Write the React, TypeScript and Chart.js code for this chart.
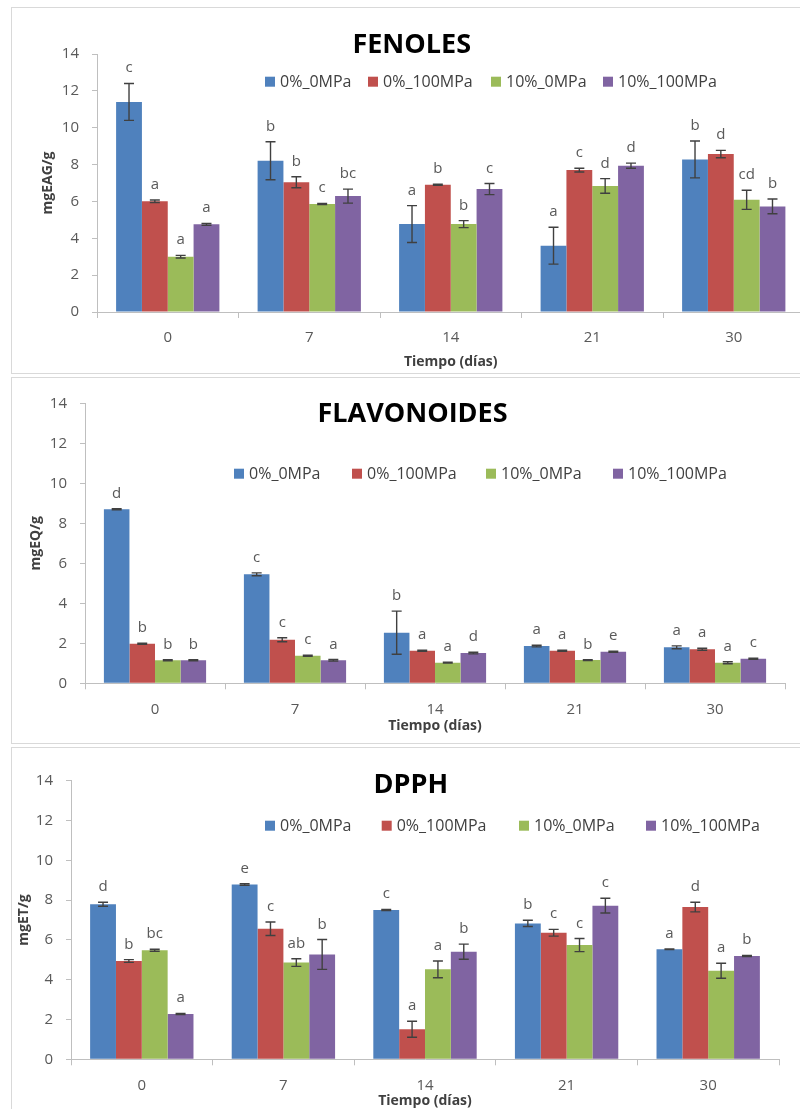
import React, { useEffect, useRef } from 'react';
import { Chart, registerables } from 'chart.js';

Chart.register(...registerables);

// ---------- data ----------
const categories = ['0', '7', '14', '21', '30'];
const seriesNames = ['0%_0MPa', '0%_100MPa', '10%_0MPa', '10%_100MPa'];
const seriesColors = ['#4F81BD', '#C0504D', '#9BBB59', '#8064A2'];
const yMin = 0;
const yMax = 14;
const yStep = 2;

// FENOLES
const fenoles_0_0 = [11.4, 8.21, 4.77, 3.6, 8.28];
const fenoles_0_100 = [6.01, 7.04, 6.91, 7.7, 8.57];
const fenoles_10_0 = [3.0, 5.86, 4.77, 6.84, 6.09];
const fenoles_10_100 = [4.76, 6.29, 6.67, 7.94, 5.73];
const fenolesErr_0_0 = [1.0, 1.03, 1.0, 1.0, 1.0];
const fenolesErr_0_100 = [0.07, 0.3, 0.03, 0.1, 0.2];
const fenolesErr_10_0 = [0.07, 0.03, 0.19, 0.4, 0.52];
const fenolesErr_10_100 = [0.05, 0.38, 0.3, 0.14, 0.4];
const fenolesLet_0_0 = ['c', 'b', 'a', 'a', 'b'];
const fenolesLet_0_100 = ['a', 'b', 'b', 'c', 'd'];
const fenolesLet_10_0 = ['a', 'c', 'b', 'd', 'cd'];
const fenolesLet_10_100 = ['a', 'bc', 'c', 'd', 'b'];

// FLAVONOIDES
const flav_0_0 = [8.7, 5.45, 2.53, 1.86, 1.8];
const flav_0_100 = [1.98, 2.18, 1.63, 1.63, 1.7];
const flav_10_0 = [1.15, 1.38, 1.03, 1.16, 1.03];
const flav_10_100 = [1.15, 1.15, 1.51, 1.58, 1.23];
const flavErr_0_0 = [0.03, 0.07, 1.08, 0.04, 0.07];
const flavErr_0_100 = [0.03, 0.1, 0.03, 0.03, 0.05];
const flavErr_10_0 = [0.03, 0.03, 0.02, 0.02, 0.05];
const flavErr_10_100 = [0.03, 0.04, 0.04, 0.03, 0.03];
const flavLet_0_0 = ['d', 'c', 'b', 'a', 'a'];
const flavLet_0_100 = ['b', 'c', 'a', 'a', 'a'];
const flavLet_10_0 = ['b', 'c', 'a', 'b', 'a'];
const flavLet_10_100 = ['b', 'a', 'd', 'e', 'c'];

// DPPH
const dpph_0_0 = [7.79, 8.79, 7.5, 6.83, 5.53];
const dpph_0_100 = [4.94, 6.56, 1.51, 6.36, 7.65];
const dpph_10_0 = [5.48, 4.86, 4.52, 5.74, 4.45];
const dpph_10_100 = [2.28, 5.27, 5.41, 7.72, 5.19];
const dpphErr_0_0 = [0.1, 0.04, 0.03, 0.16, 0.02];
const dpphErr_0_100 = [0.07, 0.34, 0.4, 0.17, 0.24];
const dpphErr_10_0 = [0.05, 0.19, 0.42, 0.33, 0.38];
const dpphErr_10_100 = [0.03, 0.75, 0.38, 0.37, 0.03];
const dpphLet_0_0 = ['d', 'e', 'c', 'b', 'a'];
const dpphLet_0_100 = ['b', 'c', 'a', 'c', 'd'];
const dpphLet_10_0 = ['bc', 'ab', 'a', 'c', 'a'];
const dpphLet_10_100 = ['a', 'b', 'b', 'c', 'b'];

// ---------- layout ----------
const FONT = "'Open Sans', 'DejaVu Sans', sans-serif";
const CANVAS_W = 830;

type Panel = {
  title: string;
  yTitle: string;
  xTitle: string;
  values: number[][];
  errors: number[][];
  letters: string[][];
  top: number;
  height: number;
  area: { left: number; top: number; right: number; bottom: number };
  yTitlePad: number;
  xTitlePad: number;
  titleX: number;
  titleBase: number;
  legendY: number;
  legendX: number[];
};

const panels: Panel[] = [
  {
    title: 'FENOLES',
    yTitle: 'mgEAG/g',
    xTitle: 'Tiempo (días)',
    values: [fenoles_0_0, fenoles_0_100, fenoles_10_0, fenoles_10_100],
    errors: [fenolesErr_0_0, fenolesErr_0_100, fenolesErr_10_0, fenolesErr_10_100],
    letters: [fenolesLet_0_0, fenolesLet_0_100, fenolesLet_10_0, fenolesLet_10_100],
    top: 7,
    height: 366,
    area: { left: 97, top: 47, right: 804.5, bottom: 305 },
    yTitlePad: 40,
    xTitlePad: 3,
    titleX: 411.7,
    titleBase: 45.7,
    legendY: 74.7,
    legendX: [265, 368, 491, 603],
  },
  {
    title: 'FLAVONOIDES',
    yTitle: 'mgEQ/g',
    xTitle: 'Tiempo (días)',
    values: [flav_0_0, flav_0_100, flav_10_0, flav_10_100],
    errors: [flavErr_0_0, flavErr_0_100, flavErr_10_0, flavErr_10_100],
    letters: [flavLet_0_0, flavLet_0_100, flavLet_10_0, flavLet_10_100],
    top: 377,
    height: 366,
    area: { left: 85, top: 26.3, right: 785, bottom: 306.3 },
    yTitlePad: 27.5,
    xTitlePad: 9,
    titleX: 412.5,
    titleBase: 44.7,
    legendY: 96.7,
    legendX: [234, 352, 486, 613],
  },
  {
    title: 'DPPH',
    yTitle: 'mgET/g',
    xTitle: 'Tiempo (días)',
    values: [dpph_0_0, dpph_0_100, dpph_10_0, dpph_10_100],
    errors: [dpphErr_0_0, dpphErr_0_100, dpphErr_10_0, dpphErr_10_100],
    letters: [dpphLet_0_0, dpphLet_0_100, dpphLet_10_0, dpphLet_10_100],
    top: 747,
    height: 362,
    area: { left: 71, top: 33.7, right: 779, bottom: 312.3 },
    yTitlePad: 16,
    xTitlePad: 0,
    titleX: 410.8,
    titleBase: 45.7,
    legendY: 78.7,
    legendX: [265, 381.7, 519, 646],
  },
];

function makeOverlay(p: Panel) {
  return {
    id: 'overlay' + p.title,
    afterDatasetsDraw(chart: any) {
      const ctx = chart.ctx;
      const ys = chart.scales.y;
      ctx.save();
      p.values.forEach((vals, di) => {
        const meta = chart.getDatasetMeta(di);
        meta.data.forEach((bar: any, i: number) => {
          const v = vals[i];
          const e = p.errors[di][i];
          const x = bar.x;
          const yt = ys.getPixelForValue(v + e);
          const yb = ys.getPixelForValue(v - e);
          ctx.strokeStyle = '#404040';
          ctx.lineWidth = 1.4;
          ctx.beginPath();
          ctx.moveTo(x, yt);
          ctx.lineTo(x, yb);
          ctx.moveTo(x - 5, yt);
          ctx.lineTo(x + 5, yt);
          ctx.moveTo(x - 5, yb);
          ctx.lineTo(x + 5, yb);
          ctx.stroke();
          ctx.fillStyle = '#595959';
          ctx.font = `15px ${FONT}`;
          ctx.textAlign = 'center';
          ctx.textBaseline = 'alphabetic';
          ctx.fillText(p.letters[di][i], x, yt - 11);
        });
      });
      ctx.restore();
    },
    afterDraw(chart: any) {
      const ctx = chart.ctx;
      ctx.save();
      ctx.fillStyle = '#000000';
      ctx.font = `bold 27px ${FONT}`;
      ctx.textAlign = 'center';
      ctx.textBaseline = 'alphabetic';
      ctx.fillText(p.title, p.titleX, p.titleBase);
      ctx.font = `16px ${FONT}`;
      ctx.textAlign = 'left';
      seriesNames.forEach((name, i) => {
        const x = p.legendX[i];
        ctx.fillStyle = seriesColors[i];
        ctx.fillRect(x, p.legendY - 5, 10, 10);
        ctx.fillStyle = '#404040';
        ctx.fillText(name, x + 15, p.legendY + 5.7);
      });
      ctx.restore();
    },
  };
}

function PanelChart({ p }: { p: Panel }) {
  const ref = useRef<HTMLCanvasElement | null>(null);
  useEffect(() => {
    if (!ref.current) return;
    const chart = new Chart(ref.current, {
      type: 'bar',
      data: {
        labels: categories,
        datasets: p.values.map((vals, i) => ({
          label: seriesNames[i],
          data: vals,
          backgroundColor: seriesColors[i],
          borderWidth: 0,
          categoryPercentage: 0.73,
          barPercentage: 1.0,
        })),
      },
      options: {
        responsive: false,
        animation: false,
        devicePixelRatio: 1,
        layout: {
          padding: {
            left: 0,
            top: p.area.top,
            right: CANVAS_W - p.area.right,
            bottom: 0,
          },
        },
        plugins: {
          legend: { display: false },
          title: { display: false },
          tooltip: { enabled: false },
        },
        scales: {
          x: {
            grid: {
              display: true,
              drawOnChartArea: false,
              drawTicks: true,
              tickLength: 6,
              color: '#BFBFBF',
              offset: true,
            },
            border: { display: true, color: '#BFBFBF', width: 1 },
            ticks: {
              color: '#595959',
              font: { family: FONT, size: 15, lineHeight: 1.2 },
              padding: 11,
            },
            title: {
              display: true,
              text: p.xTitle,
              color: '#404040',
              font: { family: FONT, size: 14, weight: 'bold', lineHeight: 1.2 },
              padding: { top: 0, bottom: p.xTitlePad },
            },
            afterFit: (s: any) => {
              s.height = p.height - p.area.bottom;
            },
          },
          y: {
            min: yMin,
            max: yMax,
            grid: {
              display: true,
              drawOnChartArea: false,
              drawTicks: true,
              tickLength: 5,
              color: '#BFBFBF',
            },
            border: { display: true, color: '#BFBFBF', width: 1 },
            ticks: {
              stepSize: yStep,
              color: '#595959',
              font: { family: FONT, size: 15, lineHeight: 1.2 },
              padding: 13,
            },
            title: {
              display: true,
              text: p.yTitle,
              color: '#404040',
              font: { family: FONT, size: 14, weight: 'bold', lineHeight: 1.2 },
              padding: { top: p.yTitlePad, bottom: 0 },
            },
            afterFit: (s: any) => {
              s.width = p.area.left;
            },
          },
        },
      },
      plugins: [makeOverlay(p)],
    } as any);
    return () => chart.destroy();
  }, [p]);
  return (
    <canvas
      ref={ref}
      width={CANVAS_W}
      height={p.height}
      style={{ position: 'absolute', left: 0, top: p.top, width: CANVAS_W, height: p.height, display: 'block' }}
    />
  );
}

export default function App() {
  const boxes = [
    { top: 7, height: 367 },
    { top: 377, height: 367 },
    { top: 747, height: 400 },
  ];
  return (
    <div
      style={{
        position: 'absolute',
        left: 0,
        top: 0,
        width: 800,
        height: 1109,
        overflow: 'hidden',
        background: '#ffffff',
      }}
    >
      {boxes.map((b, i) => (
        <div
          key={i}
          style={{
            position: 'absolute',
            left: 11,
            top: b.top,
            width: 830,
            height: b.height,
            boxSizing: 'border-box',
            border: '1px solid #D9D9D9',
          }}
        />
      ))}
      {panels.map((p) => (
        <PanelChart key={p.title} p={p} />
      ))}
    </div>
  );
}
